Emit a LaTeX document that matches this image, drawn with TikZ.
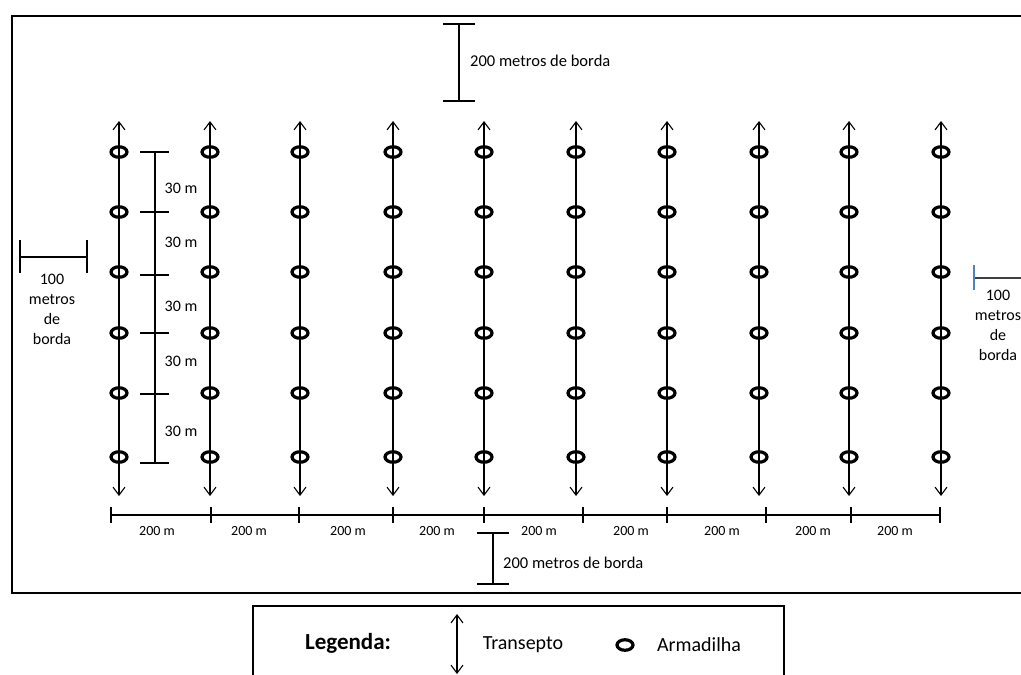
\documentclass[tikz,border=0pt]{standalone}
\usepackage{fontspec}
\setmainfont{Carlito}
\usetikzlibrary{arrows.meta,shapes.geometric}
\definecolor{tickblue}{RGB}{79,129,189}
\begin{document}
\begin{tikzpicture}[x=1pt,y=-1pt,
  frameline/.style={line width=2.8pt},
  trap/.style={ellipse,draw,line width=3.2pt,minimum width=16pt,minimum height=10.5pt,inner sep=0pt},
  transect/.style={line width=1.2pt,{Straight Barb[length=8pt,width=12pt,line width=1.1pt]}-{Straight Barb[length=8pt,width=12pt,line width=1.1pt]}},
  dimline/.style={line width=1.2pt},
  lbl/.style={inner sep=0pt,font=\fontsize{16.5}{20}\selectfont},
  small/.style={inner sep=0pt,font=\fontsize{14}{16}\selectfont},
  stack/.style={inner sep=0pt,align=center,anchor=north,font=\fontsize{16}{20}\selectfont},
  legtext/.style={inner sep=0pt,font=\fontsize{20}{24}\selectfont},
]
\useasboundingbox (0,0) rectangle (1021,675);
\clip (0,0) rectangle (1021,675);
\fill[white] (0,0) rectangle (1021,675);
% outer frame
\coordinate (fr1) at (1040,16);
\coordinate (fr2) at (12,16);
\coordinate (fr3) at (12,593);
\coordinate (fr4) at (1040,593);
\draw[frameline] (fr1) -- (fr2) -- (fr3) -- (fr4);
% transects and traps
\foreach \x [count=\i] in {119,210,300,393,484,576,667,759,849,941} {
  \coordinate (top\i) at (\x,121);
  \coordinate (bot\i) at (\x,496);
  \draw[transect] (top\i) -- (bot\i);
  \foreach \y [count=\j] in {152,212,272,333,393,457}
    \node[trap] (t\i-\j) at (\x,\y) {};
}
% 30 m scale
\foreach \y [count=\k from 0] in {152,212,275,333,394,463}
  \coordinate (s\k) at (155,\y);
\draw[dimline] (s0) -- (s5);
\foreach \k in {0,...,5}
  \draw[dimline] ([xshift=-15pt]s\k) -- ([xshift=14pt]s\k);
\foreach \y [count=\k] in {188,242,306,361,431}
  \node[lbl,font=\fontsize{16}{20}\selectfont] (d\k) at (181,\y) {30 m};
% left 100 m
\coordinate (la) at (20,257);
\coordinate (lb) at (87,257);
\draw[dimline] (la) -- (lb);
\draw[dimline] ([yshift=-16pt]la) -- ([yshift=17pt]la);
\draw[dimline] ([yshift=-16pt]lb) -- ([yshift=17pt]lb);
\node[stack] (ltext) at (52,274) {100\\metros\\de\\borda};
% right 100 m
\coordinate (ra) at (974,278);
\coordinate (rb) at (1030,278);
\draw[line width=1.1pt,black!75] (ra) -- (rb);
\draw[line width=1.1pt,tickblue] ([yshift=-12pt]ra) -- ([yshift=13pt]ra);
\node[stack] (rtext) at (998,290) {100\\metros\\de\\borda};
% top 200 m border
\coordinate (ta) at (459,24);
\coordinate (tb) at (459,101);
\draw[dimline] (ta) -- (tb);
\draw[dimline] ([xshift=-16pt]ta) -- ([xshift=16pt]ta);
\draw[dimline] ([xshift=-16pt]tb) -- ([xshift=16pt]tb);
\node[lbl,anchor=west] (ttext) at (470,61) {200 metros de borda};
% bottom 200 m scale
\foreach \x [count=\k] in {111,211,299,393,484,583,667,766,851,940}
  \coordinate (b\k) at (\x,515);
\draw[dimline] (b1) -- (b10);
\foreach \k in {1,...,10}
  \draw[dimline] ([yshift=-8pt]b\k) -- ([yshift=8pt]b\k);
\foreach \x [count=\k] in {157,249,348,437,539,631,722,813,895}
  \node[small] (m\k) at (\x,531) {200 m};
% bottom 200 m border
\coordinate (ba) at (493,533);
\coordinate (bb) at (493,584);
\draw[dimline] (ba) -- (bb);
\draw[dimline] ([xshift=-16pt]ba) -- ([xshift=16pt]ba);
\draw[dimline] ([xshift=-16pt]bb) -- ([xshift=16pt]bb);
\node[lbl,anchor=west] (btext) at (503,563) {200 metros de borda};
% legend
\coordinate (lg1) at (253,690);
\coordinate (lg2) at (253,606);
\coordinate (lg3) at (784,606);
\coordinate (lg4) at (784,690);
\draw[frameline] (lg1) -- (lg2) -- (lg3) -- (lg4);
\node[inner sep=0pt,font=\fontsize{23}{26}\selectfont\bfseries] (legtitle) at (348,643) {Legenda:};
\coordinate (la1) at (457,614);
\coordinate (la2) at (457,674);
\draw[transect] (la1) -- (la2);
\node[legtext] (legtr) at (523,645) {Transepto};
\node[trap] (legtrap) at (625,645) {};
\node[legtext] (legarm) at (699,645) {Armadilha};
\end{tikzpicture}
\end{document}
